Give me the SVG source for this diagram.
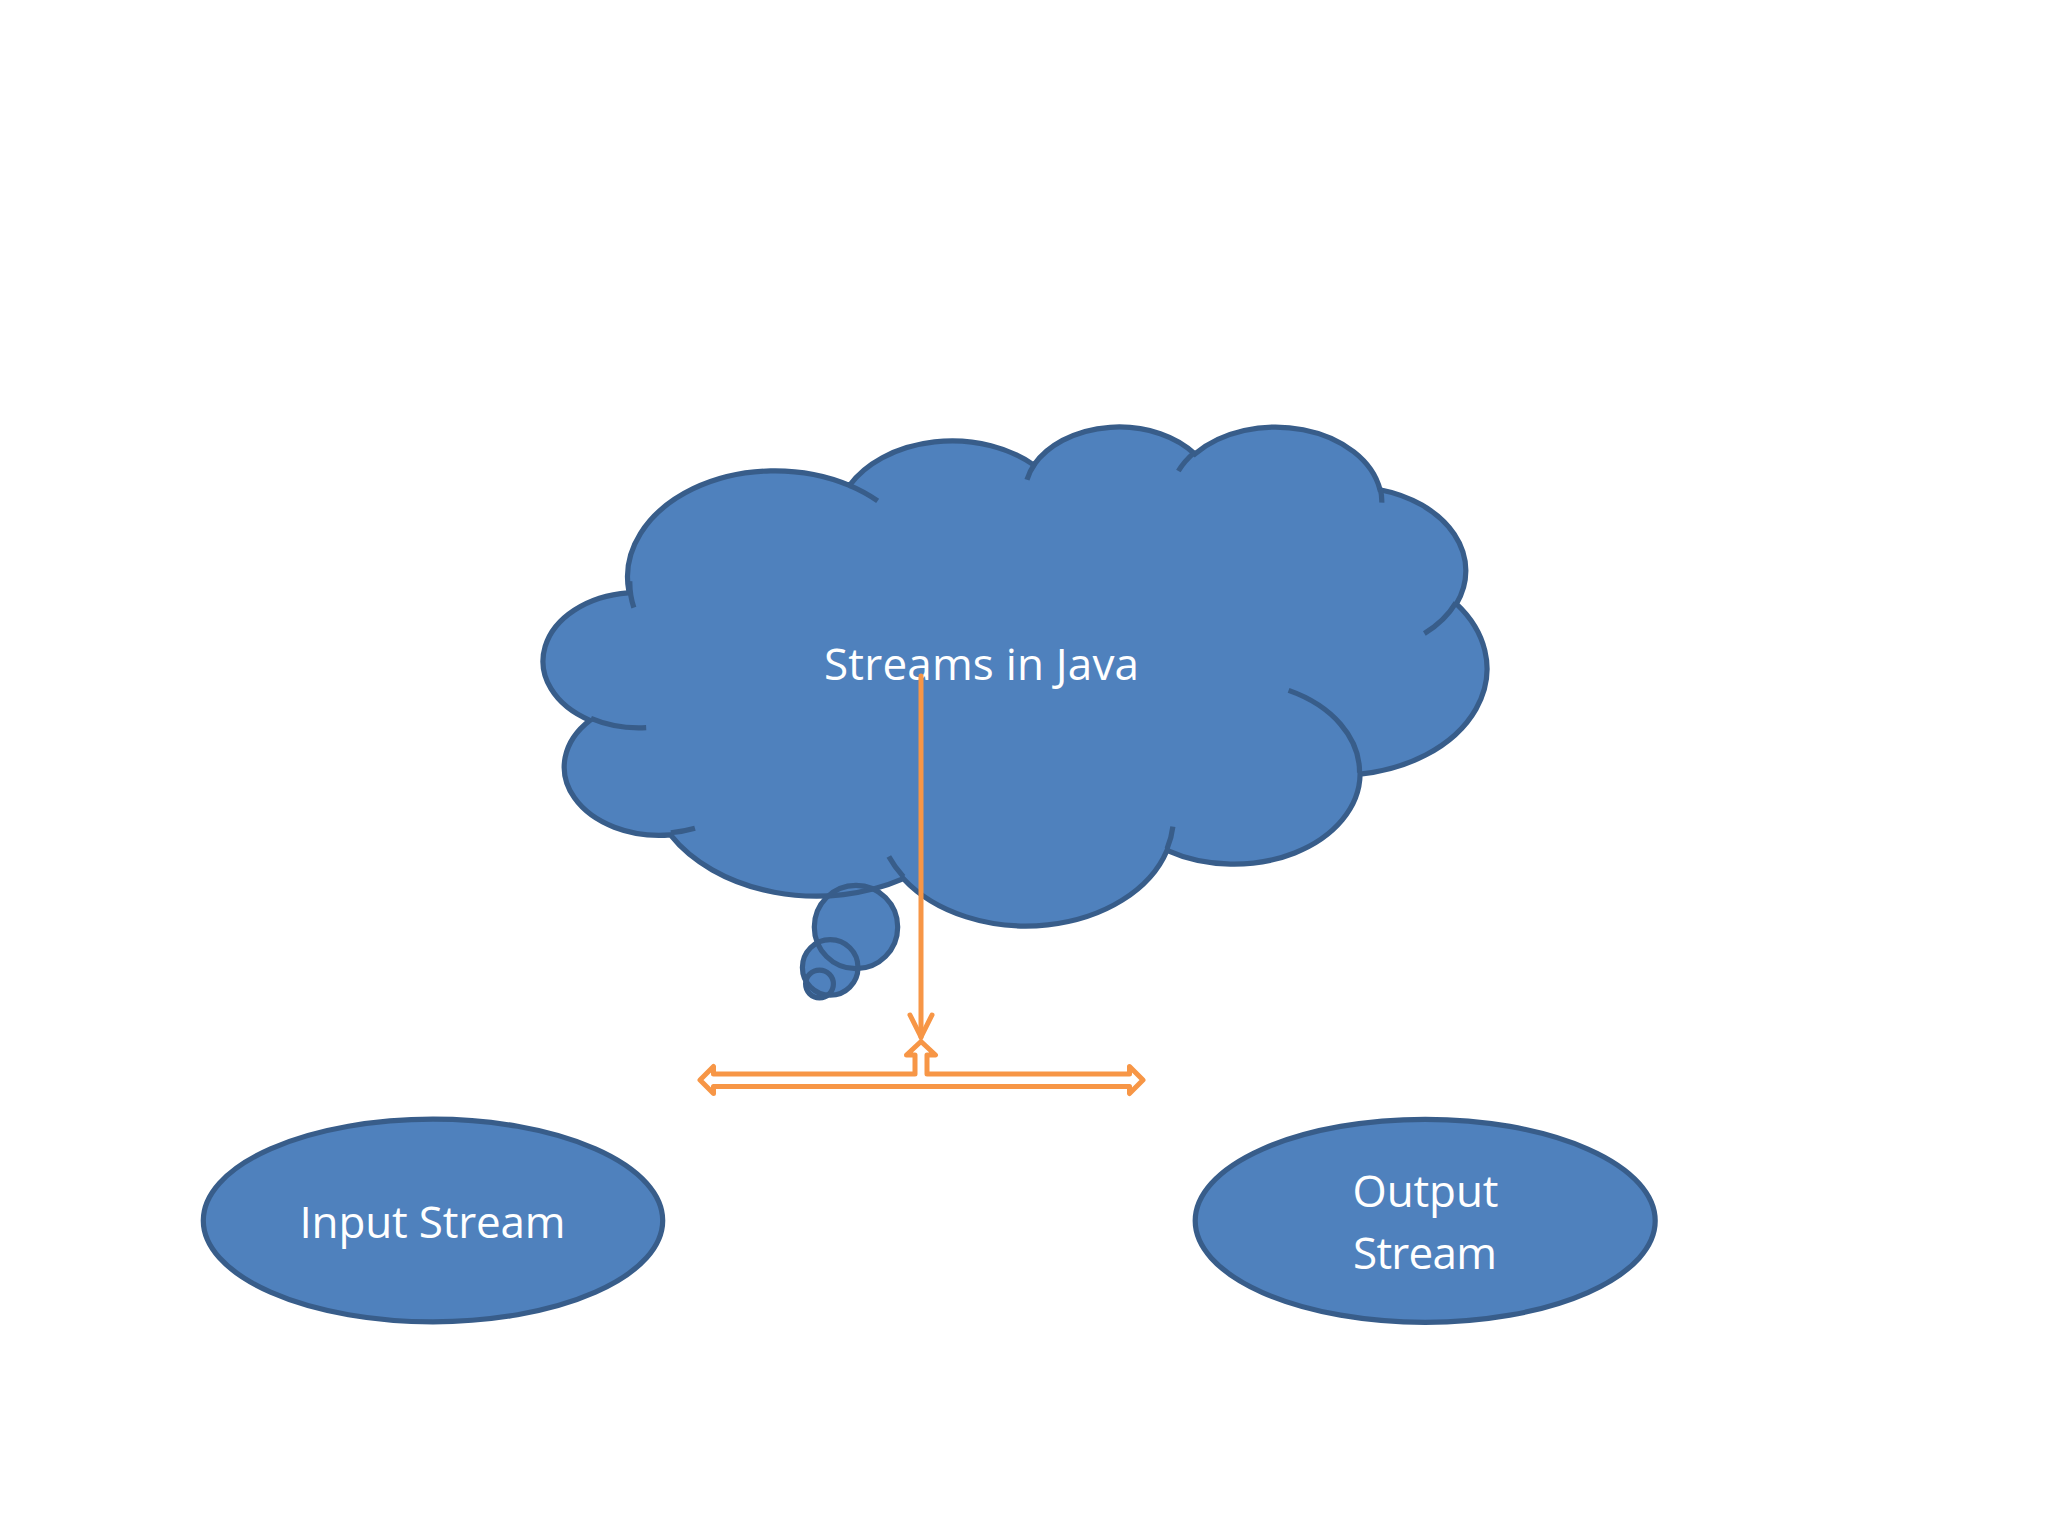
<svg xmlns="http://www.w3.org/2000/svg" width="2048" height="1536" viewBox="0 0 2048 1536">
<defs>
<style>
.fillshape{fill:#4F81BD;stroke:none}
.outline{fill:none;stroke:#385D8A;stroke-width:5.2}
.node{fill:#4F81BD;stroke:#385D8A;stroke-width:5.2}
.label{font-family:"Open Sans","Liberation Sans",sans-serif;font-size:44px;fill:#FFFFFF;text-anchor:middle}
.orange{fill:none;stroke:#F79646;stroke-width:5;stroke-linejoin:round;stroke-linecap:round}
</style>
<marker id="open-arrow" markerUnits="userSpaceOnUse" markerWidth="30" markerHeight="30" refX="0" refY="0" orient="auto" overflow="visible">
<path d="M-22,-11 L0,0 L-22,11" fill="none" stroke="#F79646" stroke-width="5" stroke-linecap="round" stroke-linejoin="miter"/>
</marker>
</defs>
<rect width="2048" height="1536" fill="#FFFFFF"/>

<g id="node-cloud">
<path class="fillshape" d="M628.87,591.29 A147.38,106.11 0 0 1 849.41,485.43 A116.39,83.90 0 0 1 1033.85,465.00 A95.26,68.64 0 0 1 1194.85,454.01 A106.00,76.15 0 0 1 1380.03,489.75 A116.39,83.97 0 0 1 1456.42,603.87 A147.86,106.45 0 0 1 1360.09,774.09 A126.25,90.83 0 0 1 1166.98,850.42 A147.36,106.40 0 0 1 903.44,878.71 A168.48,121.73 0 0 1 670.46,834.91 A95.15,68.33 0 0 1 589.90,720.35 A94.83,68.64 0 0 1 628.10,592.84 Z"/>
<circle class="fillshape" cx="856" cy="927" r="41.7"/>
<circle class="fillshape" cx="830.2" cy="967.4" r="27.8"/>
<circle class="fillshape" cx="819.5" cy="984" r="13.9"/>
<path class="outline" d="M628.87,591.29 A147.38,106.11 0 0 1 849.41,485.43 A116.39,83.90 0 0 1 1033.85,465.00 A95.26,68.64 0 0 1 1194.85,454.01 A106.00,76.15 0 0 1 1380.03,489.75 A116.39,83.97 0 0 1 1456.42,603.87 A147.86,106.45 0 0 1 1360.09,774.09 A126.25,90.83 0 0 1 1166.98,850.42 A147.36,106.40 0 0 1 903.44,878.71 A168.48,121.73 0 0 1 670.46,834.91 A95.15,68.33 0 0 1 589.90,720.35 A94.83,68.64 0 0 1 628.10,592.84 Z"/>
<circle class="outline" cx="856" cy="927" r="41.7"/>
<circle class="outline" cx="830.2" cy="967.4" r="27.8"/>
<circle class="outline" cx="819.5" cy="984" r="13.9"/>
<path class="outline" d="M646.18,727.61 A94.83,68.64 0 0 1 590.90,718.41 M694.96,828.31 A95.15,68.33 0 0 1 670.77,832.72 M903.38,876.70 A147.36,106.40 0 0 1 888.81,856.62 M1172.88,826.61 A147.36,106.40 0 0 1 1167.06,848.65 M1288.59,690.40 A126.25,90.83 0 0 1 1359.55,772.78 M1455.96,602.65 A116.39,83.97 0 0 1 1424.36,633.54 M1380.14,488.02 A106.00,76.15 0 0 1 1381.81,502.61 M1178.36,471.00 A106.00,76.15 0 0 1 1194.54,452.39 M1026.97,479.87 A95.26,68.64 0 0 1 1034.80,463.82 M849.30,485.32 A147.38,106.11 0 0 1 877.66,500.88 M633.83,607.67 A147.38,106.11 0 0 1 629.84,581.10"/>
<text class="label" x="981.5" y="680" textLength="315" lengthAdjust="spacing">Streams in Java</text>
</g>

<g id="node-input-stream">
<ellipse class="node" cx="433" cy="1220.5" rx="229.7" ry="101.3"/>
<text class="label" x="432.5" y="1237.5" textLength="266" lengthAdjust="spacing">Input Stream</text>
</g>

<g id="node-output-stream">
<ellipse class="node" cx="1425.2" cy="1220.8" rx="230" ry="101.5"/>
<text class="label" x="1425.5" y="1207" textLength="146" lengthAdjust="spacing">Output</text>
<text class="label" x="1425" y="1268.5" textLength="144" lengthAdjust="spacing">Stream</text>
</g>

<g id="node-left-right-up-arrow">
<path class="orange" d="M700,1080 L713.5,1066.5 L713.5,1074 L915,1074 L915,1055 L906.5,1055 L921,1041.5 L935.5,1055 L927,1055 L927,1074 L1129.5,1074 L1129.5,1066.5 L1143,1080 L1129.5,1093.5 L1129.5,1086.5 L713.5,1086.5 L713.5,1093.5 Z"/>
</g>

<g id="connectors">
<line class="orange" x1="921" y1="676" x2="921" y2="1037" stroke-linecap="butt" marker-end="url(#open-arrow)"/>
</g>
</svg>
